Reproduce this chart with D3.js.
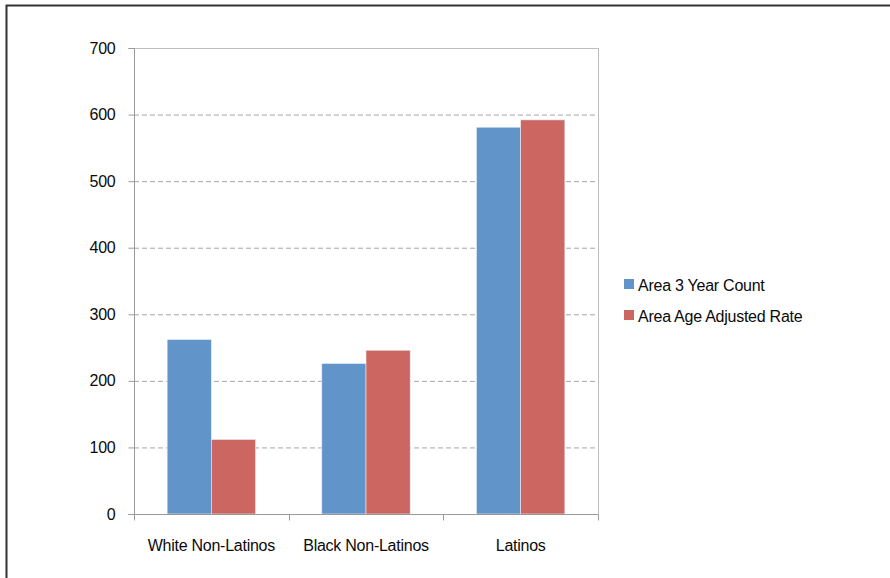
<!DOCTYPE html>
<html><head><meta charset="utf-8">
<script src="https://cdn.jsdelivr.net/npm/d3@7"></script>
<style>
body{margin:0;background:#fff;}
svg{display:block;font-family:"Liberation Sans",Arial,sans-serif;}
text{letter-spacing:-0.25px;}
</style></head>
<body><svg id="c" width="890" height="578"></svg>
<script>
const categories = ["White Non-Latinos", "Black Non-Latinos", "Latinos"];
const seriesNames = ["Area 3 Year Count", "Area Age Adjusted Rate"];
const countValues = [262, 226, 581];
const rateValues = [112, 246, 592];
const yTicks = [0, 100, 200, 300, 400, 500, 600, 700];
const colors = ["#6194c9", "#cc6660"];

(function () {
const svg = d3.select("#c");
// outer frame
svg.append("path").attr("d", "M6.5,600 V5.5 H900").attr("fill", "none").attr("stroke", "#333").attr("stroke-width", 2);

const pL = 134, pR = 598, pT = 48, pB = 514;
const x = d3.scaleBand().domain(categories).range([pL, pR]);
const x1 = d3.scaleBand().domain(seriesNames).range([0, x.bandwidth()]).paddingInner(0).paddingOuter(0.75);
const y = d3.scaleLinear().domain([0, 700]).range([pB, pT]);

// gridlines
svg.append("g").selectAll("line").data(yTicks.filter(d => d > 0 && d < 700)).join("line")
  .attr("x1", pL).attr("x2", pR).attr("y1", d => y(d) + 0.5).attr("y2", d => y(d) + 0.5)
  .attr("stroke", "#a6a6a6").attr("stroke-dasharray", "5,3");
// plot border top & right
svg.append("path").attr("d", `M${pL},${y(700)+0.5} H${pR+0.5} V${pB}`)
  .attr("fill", "none").attr("stroke", "#bdbdbd");

// bars
const data = categories.map((c, i) => ({c, vals: [countValues[i], rateValues[i]]}));
const g = svg.append("g");
data.forEach(d => {
  g.selectAll(null).data(d.vals).join("rect")
    .attr("x", (v, j) => x(d.c) + x1(seriesNames[j]))
    .attr("width", x1.bandwidth())
    .attr("y", v => y(v))
    .attr("height", v => y(0) - y(v))
    .attr("fill", (v, j) => colors[j])
    .attr("stroke", "#e8eef5").attr("stroke-width", 0.6);
});

// y axis
const yAxis = d3.axisLeft(y).tickValues(yTicks).tickSize(6).tickPadding(13);
const ya = svg.append("g").attr("transform", `translate(${pL+0.5},0)`).call(yAxis);
ya.select(".domain").attr("stroke", "#9a9a9a").attr("d", `M-6,${y(700)+0.5}H0V${pB+0.5}`);
ya.selectAll(".tick line").attr("stroke", "#9a9a9a");
ya.selectAll(".tick text").attr("font-size", 16).attr("fill", "#0a0a0a").attr("font-family", "Liberation Sans, Arial");

// x axis
const xa = svg.append("g").attr("transform", `translate(0,${pB+0.5})`);
xa.append("line").attr("x1", pL - 6).attr("x2", pR + 0.5).attr("stroke", "#9a9a9a");
const bounds = categories.map(c => x(c)).concat([pR]);
xa.selectAll(".tk").data(bounds).join("line").attr("class","tk")
  .attr("x1", d => Math.round(d)+0.5).attr("x2", d => Math.round(d)+0.5).attr("y1", 0).attr("y2", 6).attr("stroke", "#9a9a9a");
xa.selectAll("text").data(categories).join("text")
  .attr("x", d => x(d) + x.bandwidth()/2).attr("y", 36)
  .attr("text-anchor", "middle").attr("font-size", 16).attr("fill", "#0a0a0a").text(d => d);

// legend
const lg = svg.append("g").attr("transform", "translate(624,279)");
seriesNames.forEach((s, i) => {
  lg.append("rect").attr("x", 0).attr("y", i*31).attr("width", 10).attr("height", 10).attr("fill", colors[i]);
  lg.append("text").attr("x", 14).attr("y", i*31 + 12).attr("font-size", 16).attr("fill", "#0a0a0a").text(s);
});
})();
</script></body></html>
